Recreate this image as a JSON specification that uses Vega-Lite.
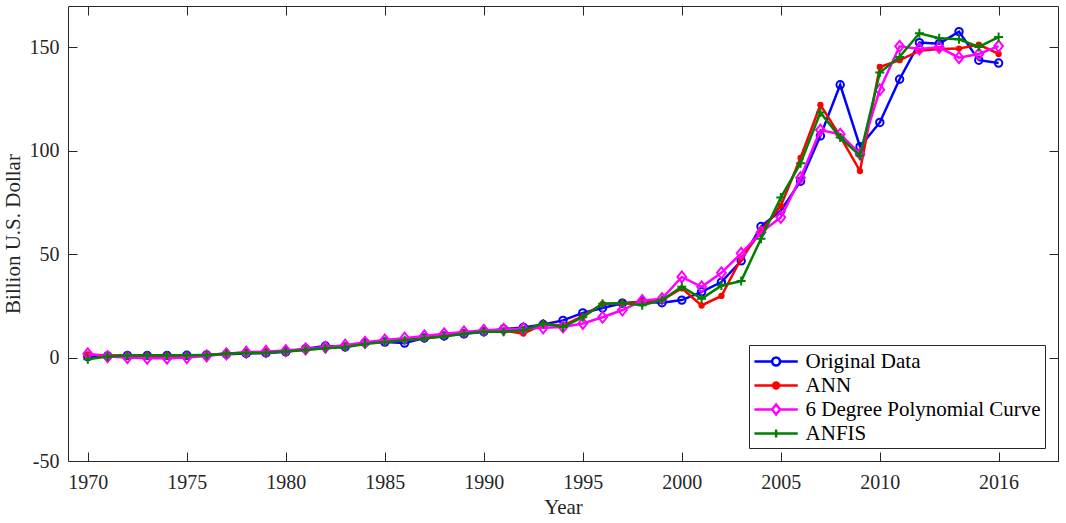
{
  "$schema": "https://vega.github.io/schema/vega-lite/v6.json",
  "width": 990,
  "height": 455,
  "autosize": "none",
  "padding": {"left": 68, "top": 6, "right": 8, "bottom": 62},
  "background": "white",
  "config": {
    "view": {"stroke": null},
    "font": "Liberation Serif",
    "axis": {
      "domainColor": "#262626",
      "domainWidth": 1,
      "tickColor": "#262626",
      "tickSize": -9,
      "tickWidth": 1,
      "grid": false,
      "labelFont": "Liberation Serif",
      "labelFontSize": 20,
      "labelColor": "#262626",
      "titleFont": "Liberation Serif",
      "titleFontSize": 21,
      "titleFontWeight": "normal",
      "titleColor": "#262626"
    }
  },
  "data": {
    "values": [
      {"Year": 1970, "Series": "Original Data", "Value": 0.5},
      {"Year": 1971, "Series": "Original Data", "Value": 0.8},
      {"Year": 1972, "Series": "Original Data", "Value": 1.0},
      {"Year": 1973, "Series": "Original Data", "Value": 1.0},
      {"Year": 1974, "Series": "Original Data", "Value": 1.0},
      {"Year": 1975, "Series": "Original Data", "Value": 1.1},
      {"Year": 1976, "Series": "Original Data", "Value": 1.3},
      {"Year": 1977, "Series": "Original Data", "Value": 1.6},
      {"Year": 1978, "Series": "Original Data", "Value": 2.0},
      {"Year": 1979, "Series": "Original Data", "Value": 2.2},
      {"Year": 1980, "Series": "Original Data", "Value": 2.8},
      {"Year": 1981, "Series": "Original Data", "Value": 4.3},
      {"Year": 1982, "Series": "Original Data", "Value": 5.6},
      {"Year": 1983, "Series": "Original Data", "Value": 5.2},
      {"Year": 1984, "Series": "Original Data", "Value": 7.2},
      {"Year": 1985, "Series": "Original Data", "Value": 7.5},
      {"Year": 1986, "Series": "Original Data", "Value": 7.0},
      {"Year": 1987, "Series": "Original Data", "Value": 9.5},
      {"Year": 1988, "Series": "Original Data", "Value": 10.5},
      {"Year": 1989, "Series": "Original Data", "Value": 11.5},
      {"Year": 1990, "Series": "Original Data", "Value": 12.5},
      {"Year": 1991, "Series": "Original Data", "Value": 13.8},
      {"Year": 1992, "Series": "Original Data", "Value": 14.6},
      {"Year": 1993, "Series": "Original Data", "Value": 16.0},
      {"Year": 1994, "Series": "Original Data", "Value": 18.0},
      {"Year": 1995, "Series": "Original Data", "Value": 21.6},
      {"Year": 1996, "Series": "Original Data", "Value": 24.0},
      {"Year": 1997, "Series": "Original Data", "Value": 26.3},
      {"Year": 1998, "Series": "Original Data", "Value": 27.0},
      {"Year": 1999, "Series": "Original Data", "Value": 26.5},
      {"Year": 2000, "Series": "Original Data", "Value": 27.8},
      {"Year": 2001, "Series": "Original Data", "Value": 31.8},
      {"Year": 2002, "Series": "Original Data", "Value": 36.5},
      {"Year": 2003, "Series": "Original Data", "Value": 46.8},
      {"Year": 2004, "Series": "Original Data", "Value": 63.4},
      {"Year": 2005, "Series": "Original Data", "Value": 71.0},
      {"Year": 2006, "Series": "Original Data", "Value": 85.3},
      {"Year": 2007, "Series": "Original Data", "Value": 107.2},
      {"Year": 2008, "Series": "Original Data", "Value": 131.9},
      {"Year": 2009, "Series": "Original Data", "Value": 102.0},
      {"Year": 2010, "Series": "Original Data", "Value": 113.7},
      {"Year": 2011, "Series": "Original Data", "Value": 134.6},
      {"Year": 2012, "Series": "Original Data", "Value": 152.3},
      {"Year": 2013, "Series": "Original Data", "Value": 151.8},
      {"Year": 2014, "Series": "Original Data", "Value": 157.6},
      {"Year": 2015, "Series": "Original Data", "Value": 143.8},
      {"Year": 2016, "Series": "Original Data", "Value": 142.4},

      {"Year": 1970, "Series": "ANN", "Value": 1.5},
      {"Year": 1971, "Series": "ANN", "Value": 1.0},
      {"Year": 1972, "Series": "ANN", "Value": 1.0},
      {"Year": 1973, "Series": "ANN", "Value": 1.0},
      {"Year": 1974, "Series": "ANN", "Value": 1.0},
      {"Year": 1975, "Series": "ANN", "Value": 1.1},
      {"Year": 1976, "Series": "ANN", "Value": 1.3},
      {"Year": 1977, "Series": "ANN", "Value": 2.0},
      {"Year": 1978, "Series": "ANN", "Value": 2.3},
      {"Year": 1979, "Series": "ANN", "Value": 2.6},
      {"Year": 1980, "Series": "ANN", "Value": 3.0},
      {"Year": 1981, "Series": "ANN", "Value": 3.8},
      {"Year": 1982, "Series": "ANN", "Value": 4.8},
      {"Year": 1983, "Series": "ANN", "Value": 5.6},
      {"Year": 1984, "Series": "ANN", "Value": 7.0},
      {"Year": 1985, "Series": "ANN", "Value": 7.6},
      {"Year": 1986, "Series": "ANN", "Value": 8.4},
      {"Year": 1987, "Series": "ANN", "Value": 9.4},
      {"Year": 1988, "Series": "ANN", "Value": 10.6},
      {"Year": 1989, "Series": "ANN", "Value": 12.0},
      {"Year": 1990, "Series": "ANN", "Value": 12.7},
      {"Year": 1991, "Series": "ANN", "Value": 13.0},
      {"Year": 1992, "Series": "ANN", "Value": 11.6},
      {"Year": 1993, "Series": "ANN", "Value": 16.2},
      {"Year": 1994, "Series": "ANN", "Value": 15.5},
      {"Year": 1995, "Series": "ANN", "Value": 20.0},
      {"Year": 1996, "Series": "ANN", "Value": 26.0},
      {"Year": 1997, "Series": "ANN", "Value": 26.2},
      {"Year": 1998, "Series": "ANN", "Value": 27.0},
      {"Year": 1999, "Series": "ANN", "Value": 27.8},
      {"Year": 2000, "Series": "ANN", "Value": 33.5},
      {"Year": 2001, "Series": "ANN", "Value": 25.2},
      {"Year": 2002, "Series": "ANN", "Value": 29.8},
      {"Year": 2003, "Series": "ANN", "Value": 48.0},
      {"Year": 2004, "Series": "ANN", "Value": 61.0},
      {"Year": 2005, "Series": "ANN", "Value": 73.4},
      {"Year": 2006, "Series": "ANN", "Value": 96.6},
      {"Year": 2007, "Series": "ANN", "Value": 122.2},
      {"Year": 2008, "Series": "ANN", "Value": 107.0},
      {"Year": 2009, "Series": "ANN", "Value": 90.2},
      {"Year": 2010, "Series": "ANN", "Value": 140.5},
      {"Year": 2011, "Series": "ANN", "Value": 143.8},
      {"Year": 2012, "Series": "ANN", "Value": 148.3},
      {"Year": 2013, "Series": "ANN", "Value": 149.2},
      {"Year": 2014, "Series": "ANN", "Value": 149.4},
      {"Year": 2015, "Series": "ANN", "Value": 151.3},
      {"Year": 2016, "Series": "ANN", "Value": 146.8},

      {"Year": 1970, "Series": "6 Degree Polynomial Curve", "Value": 1.8},
      {"Year": 1971, "Series": "6 Degree Polynomial Curve", "Value": 0.5},
      {"Year": 1972, "Series": "6 Degree Polynomial Curve", "Value": 0.0},
      {"Year": 1973, "Series": "6 Degree Polynomial Curve", "Value": -0.3},
      {"Year": 1974, "Series": "6 Degree Polynomial Curve", "Value": -0.3},
      {"Year": 1975, "Series": "6 Degree Polynomial Curve", "Value": 0.0},
      {"Year": 1976, "Series": "6 Degree Polynomial Curve", "Value": 0.8},
      {"Year": 1977, "Series": "6 Degree Polynomial Curve", "Value": 1.8},
      {"Year": 1978, "Series": "6 Degree Polynomial Curve", "Value": 2.6},
      {"Year": 1979, "Series": "6 Degree Polynomial Curve", "Value": 3.0},
      {"Year": 1980, "Series": "6 Degree Polynomial Curve", "Value": 3.4},
      {"Year": 1981, "Series": "6 Degree Polynomial Curve", "Value": 4.2},
      {"Year": 1982, "Series": "6 Degree Polynomial Curve", "Value": 5.0},
      {"Year": 1983, "Series": "6 Degree Polynomial Curve", "Value": 6.0},
      {"Year": 1984, "Series": "6 Degree Polynomial Curve", "Value": 7.4},
      {"Year": 1985, "Series": "6 Degree Polynomial Curve", "Value": 8.5},
      {"Year": 1986, "Series": "6 Degree Polynomial Curve", "Value": 9.4},
      {"Year": 1987, "Series": "6 Degree Polynomial Curve", "Value": 10.5},
      {"Year": 1988, "Series": "6 Degree Polynomial Curve", "Value": 11.5},
      {"Year": 1989, "Series": "6 Degree Polynomial Curve", "Value": 12.4},
      {"Year": 1990, "Series": "6 Degree Polynomial Curve", "Value": 13.2},
      {"Year": 1991, "Series": "6 Degree Polynomial Curve", "Value": 13.6},
      {"Year": 1992, "Series": "6 Degree Polynomial Curve", "Value": 14.0},
      {"Year": 1993, "Series": "6 Degree Polynomial Curve", "Value": 14.4},
      {"Year": 1994, "Series": "6 Degree Polynomial Curve", "Value": 14.8},
      {"Year": 1995, "Series": "6 Degree Polynomial Curve", "Value": 16.5},
      {"Year": 1996, "Series": "6 Degree Polynomial Curve", "Value": 19.5},
      {"Year": 1997, "Series": "6 Degree Polynomial Curve", "Value": 23.0},
      {"Year": 1998, "Series": "6 Degree Polynomial Curve", "Value": 27.5},
      {"Year": 1999, "Series": "6 Degree Polynomial Curve", "Value": 28.5},
      {"Year": 2000, "Series": "6 Degree Polynomial Curve", "Value": 39.0},
      {"Year": 2001, "Series": "6 Degree Polynomial Curve", "Value": 34.2},
      {"Year": 2002, "Series": "6 Degree Polynomial Curve", "Value": 41.0},
      {"Year": 2003, "Series": "6 Degree Polynomial Curve", "Value": 50.4},
      {"Year": 2004, "Series": "6 Degree Polynomial Curve", "Value": 60.5},
      {"Year": 2005, "Series": "6 Degree Polynomial Curve", "Value": 67.8},
      {"Year": 2006, "Series": "6 Degree Polynomial Curve", "Value": 87.0},
      {"Year": 2007, "Series": "6 Degree Polynomial Curve", "Value": 110.0},
      {"Year": 2008, "Series": "6 Degree Polynomial Curve", "Value": 108.0},
      {"Year": 2009, "Series": "6 Degree Polynomial Curve", "Value": 98.5},
      {"Year": 2010, "Series": "6 Degree Polynomial Curve", "Value": 129.5},
      {"Year": 2011, "Series": "6 Degree Polynomial Curve", "Value": 150.5},
      {"Year": 2012, "Series": "6 Degree Polynomial Curve", "Value": 149.2},
      {"Year": 2013, "Series": "6 Degree Polynomial Curve", "Value": 150.0},
      {"Year": 2014, "Series": "6 Degree Polynomial Curve", "Value": 145.0},
      {"Year": 2015, "Series": "6 Degree Polynomial Curve", "Value": 146.8},
      {"Year": 2016, "Series": "6 Degree Polynomial Curve", "Value": 150.6},

      {"Year": 1970, "Series": "ANFIS", "Value": -0.8},
      {"Year": 1971, "Series": "ANFIS", "Value": 0.5},
      {"Year": 1972, "Series": "ANFIS", "Value": 1.0},
      {"Year": 1973, "Series": "ANFIS", "Value": 1.0},
      {"Year": 1974, "Series": "ANFIS", "Value": 1.0},
      {"Year": 1975, "Series": "ANFIS", "Value": 1.1},
      {"Year": 1976, "Series": "ANFIS", "Value": 1.1},
      {"Year": 1977, "Series": "ANFIS", "Value": 2.0},
      {"Year": 1978, "Series": "ANFIS", "Value": 2.2},
      {"Year": 1979, "Series": "ANFIS", "Value": 2.4},
      {"Year": 1980, "Series": "ANFIS", "Value": 3.0},
      {"Year": 1981, "Series": "ANFIS", "Value": 3.7},
      {"Year": 1982, "Series": "ANFIS", "Value": 4.5},
      {"Year": 1983, "Series": "ANFIS", "Value": 5.0},
      {"Year": 1984, "Series": "ANFIS", "Value": 6.6},
      {"Year": 1985, "Series": "ANFIS", "Value": 7.5},
      {"Year": 1986, "Series": "ANFIS", "Value": 8.4},
      {"Year": 1987, "Series": "ANFIS", "Value": 9.2},
      {"Year": 1988, "Series": "ANFIS", "Value": 10.2},
      {"Year": 1989, "Series": "ANFIS", "Value": 11.5},
      {"Year": 1990, "Series": "ANFIS", "Value": 12.5},
      {"Year": 1991, "Series": "ANFIS", "Value": 12.5},
      {"Year": 1992, "Series": "ANFIS", "Value": 13.2},
      {"Year": 1993, "Series": "ANFIS", "Value": 16.5},
      {"Year": 1994, "Series": "ANFIS", "Value": 14.8},
      {"Year": 1995, "Series": "ANFIS", "Value": 19.5},
      {"Year": 1996, "Series": "ANFIS", "Value": 26.0},
      {"Year": 1997, "Series": "ANFIS", "Value": 26.4},
      {"Year": 1998, "Series": "ANFIS", "Value": 25.3},
      {"Year": 1999, "Series": "ANFIS", "Value": 27.8},
      {"Year": 2000, "Series": "ANFIS", "Value": 34.3},
      {"Year": 2001, "Series": "ANFIS", "Value": 28.5},
      {"Year": 2002, "Series": "ANFIS", "Value": 34.8},
      {"Year": 2003, "Series": "ANFIS", "Value": 37.0},
      {"Year": 2004, "Series": "ANFIS", "Value": 57.5},
      {"Year": 2005, "Series": "ANFIS", "Value": 77.4},
      {"Year": 2006, "Series": "ANFIS", "Value": 94.0},
      {"Year": 2007, "Series": "ANFIS", "Value": 118.5},
      {"Year": 2008, "Series": "ANFIS", "Value": 106.4},
      {"Year": 2009, "Series": "ANFIS", "Value": 97.6},
      {"Year": 2010, "Series": "ANFIS", "Value": 137.8},
      {"Year": 2011, "Series": "ANFIS", "Value": 145.4},
      {"Year": 2012, "Series": "ANFIS", "Value": 156.8},
      {"Year": 2013, "Series": "ANFIS", "Value": 154.4},
      {"Year": 2014, "Series": "ANFIS", "Value": 153.9},
      {"Year": 2015, "Series": "ANFIS", "Value": 150.2},
      {"Year": 2016, "Series": "ANFIS", "Value": 155.0}
    ]
  },
  "layer": [
    {
      "encoding": {
        "x": {
          "field": "Year", "type": "quantitative",
          "scale": {"domain": [1969, 2019], "nice": false, "zero": false},
          "axis": {
            "orient": "bottom",
            "values": [1970, 1975, 1980, 1985, 1990, 1995, 2000, 2005, 2010, 2016],
            "labelExpr": "'' + datum.value",
            "labelPadding": 20,
            "title": "Year",
            "titlePadding": 4
          }
        },
        "y": {
          "field": "Value", "type": "quantitative",
          "scale": {"domain": [-50, 170], "nice": false, "zero": false},
          "axis": {
            "orient": "left",
            "values": [-50, 0, 50, 100, 150],
            "labelExpr": "'' + datum.value",
            "labelPadding": 18,
            "title": "Billion U.S. Dollar",
            "titlePadding": 6
          }
        }
      },
      "layer": [
        {
          "transform": [{"filter": "datum.Series === 'Original Data'"}],
          "mark": {"type": "line", "strokeWidth": 2.5},
          "encoding": {
            "color": {
              "field": "Series", "type": "nominal",
              "scale": {
                "domain": ["Original Data", "ANN", "6 Degree Polynomial Curve", "ANFIS"],
                "range": ["#0000ff", "#ff0000", "#ff00ff", "#008000"]
              },
              "legend": {
                "title": null,
                "orient": "bottom-right",
                "offset": 13,
                "padding": 4,
                "strokeColor": "#262626",
                "fillColor": "white",
                "labelFont": "Liberation Serif",
                "labelFontSize": 21,
                "labelColor": "black",
                "labelLimit": 400,
                "symbolSize": 484,
                "symbolOffset": 10.6,
                "labelOffset": 17,
                "rowPadding": 1,
                "symbolStrokeWidth": 2.5,
                "symbolFillColor": "transparent",
                "encode": {
                  "symbols": {
                    "update": {
                      "shape": {"signal": "datum.value === 'Original Data' ? 'M-1.97,0H-0.36A0.36,0.36 0 1,1 0.36,0A0.36,0.36 0 1,1 -0.36,0M0.36,0H1.97' : datum.value === 'ANN' ? 'M-1.97,0H1.97M-0.27,0A0.27,0.27 0 1,1 0.27,0A0.27,0.27 0 1,1 -0.27,0M-0.13,0A0.13,0.13 0 1,1 0.13,0A0.13,0.13 0 1,1 -0.13,0' : datum.value === 'ANFIS' ? 'M-1.97,0H1.97M0,-0.36V0.36' : 'M-1.97,0H-0.36L0,-0.45L0.36,0L0,0.45L-0.36,0M0.36,0H1.97'"},
                      "fillOpacity": {"value": 0},
                      "stroke": {"signal": "scale('color', datum.value)"},
                      "strokeWidth": {"value": 2.5},
                      "opacity": {"value": 1}
                    }
                  }
                }
              }
            }
          }
        },
        {
          "transform": [{"filter": "datum.Series === 'Original Data'"}],
          "mark": {"type": "point", "shape": "circle", "filled": false, "size": 55, "strokeWidth": 2, "opacity": 1},
          "encoding": {"color": {"field": "Series", "type": "nominal", "legend": null}}
        },
        {
          "transform": [{"filter": "datum.Series === 'ANN'"}],
          "mark": {"type": "line", "strokeWidth": 2.5},
          "encoding": {"color": {"field": "Series", "type": "nominal", "legend": null}}
        },
        {
          "transform": [{"filter": "datum.Series === 'ANN'"}],
          "mark": {"type": "point", "shape": "circle", "filled": true, "size": 40, "opacity": 1},
          "encoding": {"color": {"field": "Series", "type": "nominal", "legend": null}}
        },
        {
          "transform": [{"filter": "datum.Series === '6 Degree Polynomial Curve'"}],
          "mark": {"type": "line", "strokeWidth": 2.5},
          "encoding": {"color": {"field": "Series", "type": "nominal", "legend": null}}
        },
        {
          "transform": [{"filter": "datum.Series === '6 Degree Polynomial Curve'"}],
          "mark": {"type": "point", "shape": "M0,-1L0.8,0L0,1L-0.8,0Z", "filled": false, "size": 121, "strokeWidth": 2, "opacity": 1},
          "encoding": {"color": {"field": "Series", "type": "nominal", "legend": null}}
        },
        {
          "transform": [{"filter": "datum.Series === 'ANFIS'"}],
          "mark": {"type": "line", "strokeWidth": 2.5},
          "encoding": {"color": {"field": "Series", "type": "nominal", "legend": null}}
        },
        {
          "transform": [{"filter": "datum.Series === 'ANFIS'"}],
          "mark": {"type": "point", "shape": "M-1,0H1M0,-1V1", "filled": false, "size": 81, "strokeWidth": 2, "opacity": 1},
          "encoding": {"color": {"field": "Series", "type": "nominal", "legend": null}}
        }
      ]
    },
    {
      "mark": {"type": "point", "opacity": 0},
      "encoding": {
        "x": {
          "field": "Year", "type": "quantitative",
          "scale": {"domain": [1969, 2019], "nice": false, "zero": false},
          "axis": {
            "orient": "top",
            "values": [1970, 1975, 1980, 1985, 1990, 1995, 2000, 2005, 2010, 2016],
            "labels": false,
            "title": null
          }
        },
        "y": {
          "field": "Value", "type": "quantitative",
          "scale": {"domain": [-50, 170], "nice": false, "zero": false},
          "axis": {
            "orient": "right",
            "values": [-50, 0, 50, 100, 150],
            "labels": false,
            "title": null
          }
        }
      }
    }
  ],
  "resolve": {"scale": {"x": "independent", "y": "independent"}}
}
